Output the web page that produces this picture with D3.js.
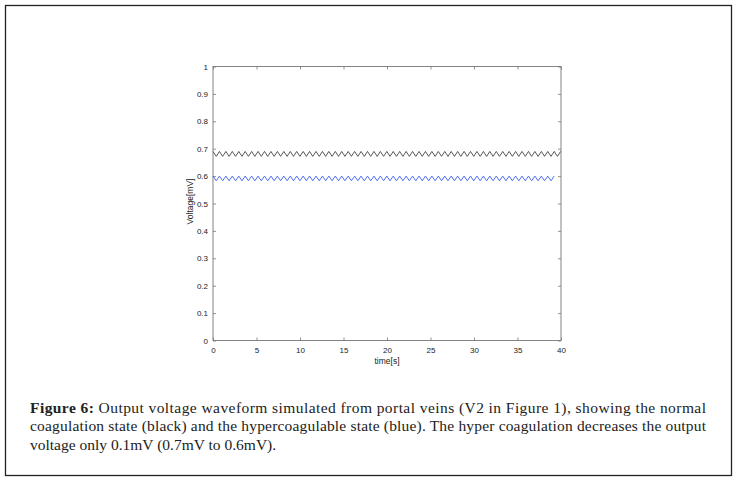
<!DOCTYPE html>
<html>
<head>
<meta charset="utf-8">
<script src="https://cdn.jsdelivr.net/npm/d3@7"></script>
<style>
html,body{margin:0;padding:0;background:#fff;}
svg{display:block;}
</style>
</head>
<body>
<svg id="chart" width="737" height="482"></svg>
<script>
// ---- data ----
const xTicks = [0, 5, 10, 15, 20, 25, 30, 35, 40];
const yTicks = [0, 0.1, 0.2, 0.3, 0.4, 0.5, 0.6, 0.7, 0.8, 0.9, 1];
const time = [0,0.37,0.74,1.11,1.48,1.85,2.22,2.59,2.96,3.33,3.70,4.07,4.44,4.81,5.18,5.55,5.92,6.29,6.66,7.03,7.40,7.77,8.14,8.51,8.88,9.25,9.62,9.99,10.36,10.73,11.10,11.47,11.84,12.21,12.58,12.95,13.32,13.69,14.06,14.43,14.80,15.17,15.54,15.91,16.28,16.65,17.02,17.39,17.76,18.13,18.50,18.87,19.24,19.61,19.98,20.35,20.72,21.09,21.46,21.83,22.20,22.57,22.94,23.31,23.68,24.05,24.42,24.79,25.16,25.53,25.90,26.27,26.64,27.01,27.38,27.75,28.12,28.49,28.86,29.23,29.60,29.97,30.34,30.71,31.08,31.45,31.82,32.19,32.56,32.93,33.30,33.67,34.04,34.41,34.78,35.15,35.52,35.89,36.26,36.63,37.00,37.37,37.74,38.11,38.48,38.85,39.22,39.59,39.96];
const normalV = [0.69,0.672,0.69,0.672,0.69,0.672,0.69,0.672,0.69,0.672,0.69,0.672,0.69,0.672,0.69,0.672,0.69,0.672,0.69,0.672,0.69,0.672,0.69,0.672,0.69,0.672,0.69,0.672,0.69,0.672,0.69,0.672,0.69,0.672,0.69,0.672,0.69,0.672,0.69,0.672,0.69,0.672,0.69,0.672,0.69,0.672,0.69,0.672,0.69,0.672,0.69,0.672,0.69,0.672,0.69,0.672,0.69,0.672,0.69,0.672,0.69,0.672,0.69,0.672,0.69,0.672,0.69,0.672,0.69,0.672,0.69,0.672,0.69,0.672,0.69,0.672,0.69,0.672,0.69,0.672,0.69,0.672,0.69,0.672,0.69,0.672,0.69,0.672,0.69,0.672,0.69,0.672,0.69,0.672,0.69,0.672,0.69,0.672,0.69,0.672,0.69,0.672,0.69,0.672,0.69,0.672,0.69,0.672,0.69];
const hyperV = [0.6,0.583,0.6,0.583,0.6,0.583,0.6,0.583,0.6,0.583,0.6,0.583,0.6,0.583,0.6,0.583,0.6,0.583,0.6,0.583,0.6,0.583,0.6,0.583,0.6,0.583,0.6,0.583,0.6,0.583,0.6,0.583,0.6,0.583,0.6,0.583,0.6,0.583,0.6,0.583,0.6,0.583,0.6,0.583,0.6,0.583,0.6,0.583,0.6,0.583,0.6,0.583,0.6,0.583,0.6,0.583,0.6,0.583,0.6,0.583,0.6,0.583,0.6,0.583,0.6,0.583,0.6,0.583,0.6,0.583,0.6,0.583,0.6,0.583,0.6,0.583,0.6,0.583,0.6,0.583,0.6,0.583,0.6,0.583,0.6,0.583,0.6,0.583,0.6,0.583,0.6,0.583,0.6,0.583,0.6,0.583,0.6,0.583,0.6,0.583,0.6,0.583,0.6,0.583,0.6,0.583,0.6];
const xLabel = "time[s]";
const yLabel = "Voltage[mV]";
const captionBold = "Figure 6:";
const captionLines = [
  " Output voltage waveform simulated from portal veins (V2 in Figure 1), showing the normal",
  "coagulation state (black) and the hypercoagulable state (blue). The hyper coagulation decreases the output",
  "voltage only 0.1mV (0.7mV to 0.6mV)."
];

// ---- drawing ----
const svg = d3.select("#chart");
svg.append("rect").attr("x",5.5).attr("y",5.5).attr("width",726).attr("height",470)
  .attr("fill","none").attr("stroke","#222").attr("stroke-width",1.3);

const L = 213, R = 561, T = 66.5, B = 340.5;
const x = d3.scaleLinear().domain([0,40]).range([L,R]);
const y = d3.scaleLinear().domain([0,1]).range([B,T]);

const axisColor = "#777";
const tickFont = "'Liberation Sans', Arial, sans-serif";

function styleAxis(g){
  g.select(".domain").remove();
  g.selectAll(".tick line").attr("stroke",axisColor).attr("stroke-width",0.8);
  g.selectAll(".tick text").attr("fill","#222").attr("font-size","8px").attr("font-family",tickFont);
}
// bottom
svg.append("g").attr("transform",`translate(0,${B})`)
  .call(d3.axisBottom(x).tickValues(xTicks).tickSize(-3).tickPadding(7).tickFormat(d3.format("d")))
  .call(styleAxis);
// top (mirrored ticks)
svg.append("g").attr("transform",`translate(0,${T})`)
  .call(d3.axisTop(x).tickValues(xTicks).tickSize(-3).tickFormat(""))
  .call(styleAxis);
// left
svg.append("g").attr("transform",`translate(${L},0)`)
  .call(d3.axisLeft(y).tickValues(yTicks).tickSize(-3).tickPadding(5).tickFormat(d => d3.format("~g")(d)))
  .call(styleAxis);
// right (mirrored)
svg.append("g").attr("transform",`translate(${R},0)`)
  .call(d3.axisRight(y).tickValues(yTicks).tickSize(-3).tickFormat(""))
  .call(styleAxis);

// frame
svg.append("rect").attr("x",L).attr("y",T).attr("width",R-L).attr("height",B-T)
  .attr("fill","none").attr("stroke",axisColor).attr("stroke-width",0.9);

const line = d3.line().x((d,i)=>x(time[i])).y(d=>y(d));
svg.append("path").datum(normalV).attr("d",line).attr("fill","none")
  .attr("stroke","#444").attr("stroke-width",0.9);
svg.append("path").datum(hyperV).attr("d",line).attr("fill","none")
  .attr("stroke","#3a5cf0").attr("stroke-width",0.9);

// axis labels
svg.append("text").attr("x",(L+R)/2).attr("y",364).attr("text-anchor","middle")
  .attr("font-size","8.5px").attr("font-family",tickFont).attr("fill","#222").text(xLabel);
svg.append("text").attr("transform",`translate(193,${(T+B)/2 - 2}) rotate(-90)`).attr("text-anchor","middle")
  .attr("font-size","8.5px").attr("font-family",tickFont).attr("fill","#222").text(yLabel);

// caption
const capFont = "'Liberation Serif', 'DejaVu Serif', serif";
const capX = 30, capW = 676;
const baselines = [412.5, 431, 449.5];
const t1 = svg.append("text").attr("x",capX).attr("y",baselines[0])
  .attr("font-family",capFont).attr("font-size","15.5px").attr("fill","#222")
  .attr("textLength",capW).attr("lengthAdjust","spacing");
t1.append("tspan").attr("font-weight","bold").text(captionBold);
t1.append("tspan").text(captionLines[0]);
svg.append("text").attr("x",capX).attr("y",baselines[1])
  .attr("font-family",capFont).attr("font-size","15.5px").attr("fill","#222")
  .attr("textLength",capW).attr("lengthAdjust","spacing").text(captionLines[1]);
svg.append("text").attr("x",capX).attr("y",baselines[2])
  .attr("font-family",capFont).attr("font-size","15.5px").attr("fill","#222")
  .text(captionLines[2]);
</script>
</body>
</html>
